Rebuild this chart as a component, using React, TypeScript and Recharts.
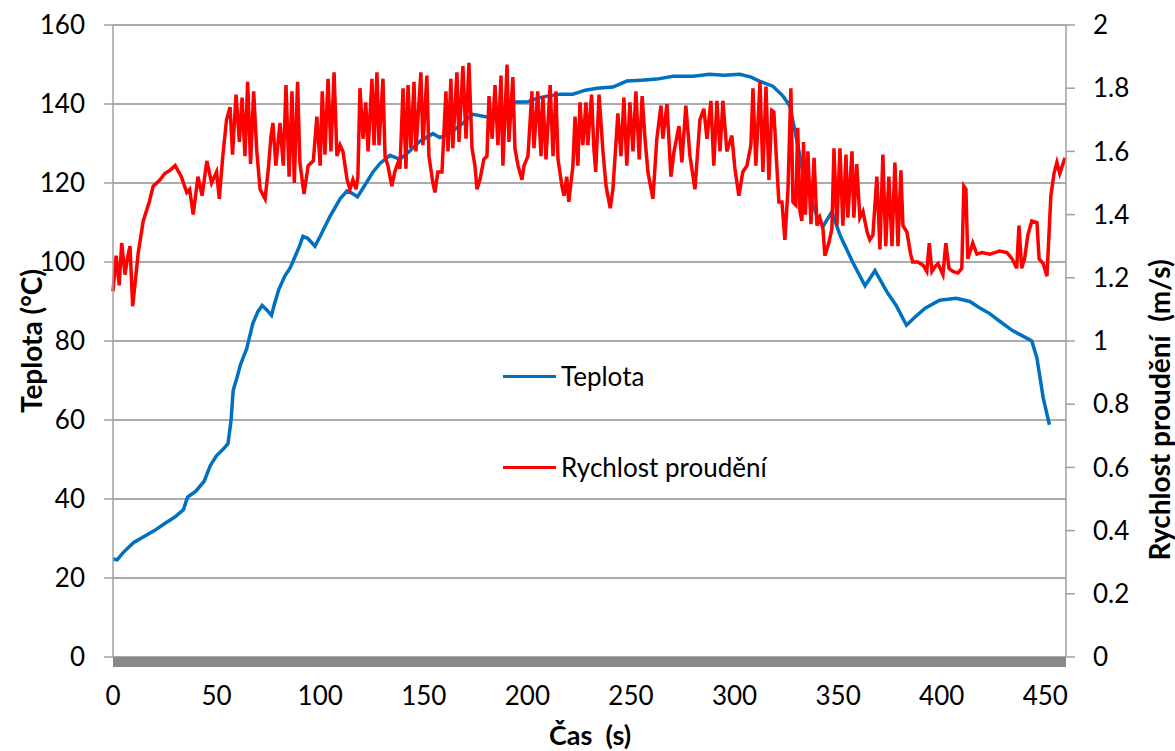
import React from 'react';
import { LineChart, Line, XAxis, YAxis, CartesianGrid, Legend } from 'recharts';

// Teplota (°C) v čase (s)
const teplotaCas = [
  0, 2, 5, 10, 15, 20, 25, 30, 34, 36, 40, 44, 47, 50, 53, 55.5, 57, 58, 60, 61.5,
  64.5, 67.5, 70, 72, 74, 76.5, 78, 80, 83, 85.5, 88, 90, 91.7, 94, 97.5, 100, 104.7,
  109.6, 113, 115, 118, 121, 125.5, 129, 133.7, 138.5, 143, 148, 154.4, 157.8, 162,
  167.5, 173.7, 180.5, 186, 193, 199.8, 205, 209.5, 216, 222, 228, 233.6, 241.3, 248,
  255, 262.5, 270.3, 280, 288, 295, 302.6, 308, 312, 318.5, 323.4, 326.7, 330, 333,
  336.4, 339.5, 342.7, 345, 347, 351, 357, 363, 367.8, 373.5, 378, 383, 387, 392, 399,
  407, 413.6, 418, 423, 428, 434, 439, 443.5, 446, 449, 452,
];
const teplotaHodnoty = [
  24.8, 24.6, 26.5, 29, 30.5, 32, 33.8, 35.5, 37.3, 40.5, 42, 44.5, 48.5, 51, 52.5, 54,
  60, 67.5, 71, 74, 78, 84.5, 87.5, 89, 88, 86.5, 89.5, 93, 96.5, 98.5, 101.5, 104,
  106.5, 106, 104, 106.5, 111.5, 116, 118, 117.5, 116.5, 119, 122.8, 125, 127, 126,
  128, 130.5, 132.5, 131.5, 132.5, 134.5, 137.4, 136.7, 138, 140.5, 140.5, 141.5, 142,
  142.5, 142.5, 143.5, 144, 144.3, 145.8, 146, 146.3, 147, 147, 147.5, 147.3, 147.5,
  146.8, 145.8, 144.5, 142, 139.5, 131, 122.8, 116.8, 112, 109, 111, 112.7, 106.7, 100,
  94, 97.8, 92.5, 89, 84, 86, 88.3, 90.3, 90.8, 90, 88.5, 87, 85, 82.7, 81.3, 80, 75.6,
  65.6, 58.8,
];

// Rychlost proudění (m/s) v čase (s)
const rychlostCas = [
  0, 1.5, 3, 4.2, 5.8, 6.9, 8.2, 9.5, 12.2, 14.6, 17.5, 19.4, 22.7, 25, 27.5, 30, 33,
  35.6, 37, 38.7, 41, 43, 45.3, 47.6, 50, 51.3, 53, 54.8, 56.5, 57.7, 59.4, 61, 62.3,
  63.7, 65, 66.4, 67.9, 69.4, 71, 73.4, 75, 76.2, 77.2, 78.6, 80.6, 82.2, 83.5, 85,
  86.4, 87.5, 89.1, 90.2, 92.2, 94.2, 96.7, 98.4, 100, 101, 102.3, 103.8, 105.2, 106.7,
  108.1, 109.6, 111, 113, 114.4, 115.8, 117.3, 118.2, 119.2, 120.7, 122, 123.1, 125,
  126, 127.4, 128.4, 130.3, 131.3, 132.7, 134.6, 136, 137.6, 138.5, 140, 141.4, 142.4,
  143.8, 145.3, 146.2, 148.6, 149.6, 151.5, 152.5, 154.4, 155.4, 156.8, 158.8, 160.7,
  161.7, 163.1, 164, 166, 167, 168.9, 170.4, 171.8, 173.3, 174.7, 175.7, 177.1, 179,
  180.5, 181.5, 183, 184.4, 185.8, 187.3, 188.2, 190.2, 191.1, 193, 194, 195.5, 197.4,
  198.4, 200.3, 202.2, 203.2, 205, 206.6, 207.5, 209, 211, 212.4, 213.8, 214.8, 216.7,
  217.7, 219, 220, 222, 223, 224.4, 225.4, 226.8, 228.3, 229.2, 231, 232.1, 233, 234.6,
  236.5, 238, 240, 241.3, 243.7, 245.2, 246.6, 248, 249.5, 251, 252.4, 254, 255.4,
  256.8, 258.2, 260.6, 262.5, 264.5, 265.4, 267.4, 269.3, 270.8, 273.2, 274.6, 276.5,
  278.5, 280.9, 283.3, 285.2, 286.7, 288.6, 290, 291.5, 293, 294.4, 296.3, 298.7,
  300.2, 302.1, 304, 306, 307.9, 308.9, 310.3, 312.3, 313.7, 315.2, 316.6, 318, 319,
  320.5, 321.4, 322.9, 324.3, 325.8, 327.2, 328.2, 329.6, 330.5, 331.6, 332.5, 333.3,
  334.2, 335.4, 336.9, 338.4, 339.8, 341.2, 342.7, 343.6, 345.5, 347, 348, 349.4,
  350.9, 352.3, 353.8, 354.7, 356.7, 357.6, 359, 360.5, 362, 364, 365.3, 366.8, 368.7,
  370.2, 371.6, 373, 374.5, 376, 377.4, 378.9, 380.3, 381.3, 383.2, 385, 386, 388.5,
  391, 392.8, 394, 395.3, 396.7, 398.2, 400.6, 402, 403.5, 405.4, 407.8, 409.7, 410.7,
  411.7, 412.6, 415, 417, 419.4, 423.3, 428, 431.5, 434, 436.2, 437.3, 438.6, 440,
  441.6, 443.5, 446, 447, 449, 450.8, 452.7, 454.2, 455.6, 457, 459.5,
];
const rychlostHodnoty = [
  1.157, 1.27, 1.176, 1.31, 1.21, 1.26, 1.3, 1.11, 1.28, 1.38, 1.44, 1.49, 1.51, 1.53,
  1.54, 1.555, 1.52, 1.47, 1.48, 1.4, 1.52, 1.46, 1.57, 1.5, 1.535, 1.45, 1.585, 1.7,
  1.74, 1.59, 1.78, 1.63, 1.77, 1.585, 1.82, 1.56, 1.79, 1.6, 1.48, 1.45, 1.545, 1.645,
  1.69, 1.555, 1.69, 1.555, 1.81, 1.52, 1.79, 1.5, 1.82, 1.565, 1.465, 1.555, 1.57,
  1.71, 1.555, 1.79, 1.59, 1.83, 1.6, 1.85, 1.585, 1.62, 1.6, 1.51, 1.48, 1.51, 1.48,
  1.52, 1.8, 1.64, 1.755, 1.6, 1.83, 1.62, 1.85, 1.62, 1.83, 1.585, 1.555, 1.49, 1.535,
  1.565, 1.545, 1.8, 1.545, 1.81, 1.61, 1.82, 1.6, 1.85, 1.62, 1.84, 1.585, 1.5, 1.47,
  1.535, 1.535, 1.79, 1.6, 1.83, 1.61, 1.85, 1.63, 1.87, 1.64, 1.88, 1.61, 1.555, 1.48,
  1.51, 1.575, 1.585, 1.775, 1.64, 1.81, 1.62, 1.84, 1.555, 1.875, 1.63, 1.835, 1.61,
  1.555, 1.51, 1.555, 1.585, 1.79, 1.61, 1.79, 1.585, 1.775, 1.575, 1.81, 1.585, 1.79,
  1.575, 1.49, 1.46, 1.52, 1.44, 1.555, 1.71, 1.555, 1.755, 1.62, 1.755, 1.62, 1.78,
  1.61, 1.535, 1.78, 1.6, 1.49, 1.42, 1.48, 1.72, 1.585, 1.77, 1.555, 1.755, 1.6, 1.79,
  1.575, 1.775, 1.64, 1.535, 1.45, 1.64, 1.745, 1.64, 1.75, 1.52, 1.6, 1.68, 1.565,
  1.745, 1.585, 1.48, 1.7, 1.735, 1.64, 1.76, 1.555, 1.76, 1.6, 1.76, 1.6, 1.65, 1.545,
  1.46, 1.535, 1.555, 1.62, 1.8, 1.555, 1.82, 1.535, 1.805, 1.51, 1.73, 1.725, 1.545,
  1.44, 1.44, 1.32, 1.48, 1.8, 1.44, 1.43, 1.675, 1.41, 1.38, 1.63, 1.4, 1.6, 1.37,
  1.58, 1.365, 1.39, 1.355, 1.27, 1.31, 1.355, 1.61, 1.365, 1.61, 1.365, 1.59, 1.39,
  1.6, 1.39, 1.56, 1.39, 1.41, 1.345, 1.32, 1.335, 1.52, 1.29, 1.59, 1.3, 1.52, 1.3,
  1.565, 1.3, 1.54, 1.365, 1.345, 1.275, 1.25, 1.25, 1.24, 1.22, 1.31, 1.22, 1.235,
  1.245, 1.21, 1.31, 1.23, 1.22, 1.215, 1.23, 1.49, 1.48, 1.26, 1.31, 1.275, 1.28,
  1.275, 1.285, 1.28, 1.26, 1.23, 1.365, 1.23, 1.26, 1.335, 1.38, 1.375, 1.26, 1.245,
  1.205, 1.46, 1.53, 1.565, 1.53, 1.58,
];

const casTicks = [0, 50, 100, 150, 200, 250, 300, 350, 400, 450];
const teplotaTicks = [0, 20, 40, 60, 80, 100, 120, 140, 160];
const rychlostTicks = [0, 0.2, 0.4, 0.6, 0.8, 1, 1.2, 1.4, 1.6, 1.8, 2];

const teplotaData = teplotaCas.map((cas, i) => ({ cas, teplota: teplotaHodnoty[i] }));
const rychlostData = rychlostCas.map((cas, i) => ({ cas, rychlost: rychlostHodnoty[i] }));

const FONT = 'Lato, "Open Sans", sans-serif';
const MODRA = '#0070C0';
const CERVENA = '#FF0000';
const tickStyle = { fontFamily: FONT, fontSize: 26, fill: '#000' };

const LegendBox = () => (
  <div style={{ fontFamily: FONT, fontSize: 26, color: '#000', lineHeight: '30px' }}>
    {[
      { name: 'Teplota', color: MODRA },
      { name: 'Rychlost proudění', color: CERVENA },
    ].map((item, i) => (
      <div key={item.name} style={{ display: 'flex', alignItems: 'center', marginTop: i ? 61 : 0 }}>
        <span style={{ display: 'inline-block', width: 53, height: 3, background: item.color, marginRight: 5 }} />
        <span>{item.name}</span>
      </div>
    ))}
  </div>
);

const titleStyle: React.CSSProperties = {
  position: 'absolute',
  fontFamily: FONT,
  fontWeight: 700,
  fontSize: 28,
  color: '#000',
  whiteSpace: 'pre',
  textAlign: 'center',
  width: 400,
  height: 30,
  lineHeight: '30px',
};

export default function App() {
  return (
    <div style={{ position: 'absolute', left: 0, top: 0, width: 1175, height: 751, background: '#fff' }}>
      <LineChart width={1175} height={751} margin={{ top: 25, right: 0, bottom: 0, left: 0 }}>
        <CartesianGrid yAxisId="left" vertical={false} stroke="#ababab" strokeWidth={1.8} />
        <XAxis
          dataKey="cas"
          type="number"
          domain={[0, 460]}
          ticks={casTicks}
          height={94}
          tickLine={false}
          tickSize={0}
          tickMargin={30}
          tick={tickStyle}
          axisLine={{ stroke: '#898989', strokeWidth: 10, transform: 'translate(0 5)' }}
          allowDuplicatedCategory={false}
        />
        <YAxis
          yAxisId="left"
          orientation="left"
          domain={[0, 160]}
          ticks={teplotaTicks}
          width={113}
          tickSize={9}
          tickMargin={19}
          tick={tickStyle}
          stroke="#a0a0a0"
          tickLine={{ stroke: '#a0a0a0', strokeWidth: 1.5 }}
          axisLine={{ stroke: '#a0a0a0', strokeWidth: 1.5 }}
        />
        <YAxis
          yAxisId="right"
          orientation="right"
          domain={[0, 2]}
          ticks={rychlostTicks}
          width={109}
          tickSize={9}
          tickMargin={18}
          tick={tickStyle}
          stroke="#a0a0a0"
          tickLine={{ stroke: '#a0a0a0', strokeWidth: 1.5 }}
          axisLine={{ stroke: '#a0a0a0', strokeWidth: 1.5 }}
        />
        <Legend
          layout="vertical"
          align="center"
          verticalAlign="middle"
          content={<LegendBox />}
          wrapperStyle={{ left: 503, top: 361, width: 320 }}
        />
        <Line
          yAxisId="left"
          data={teplotaData}
          dataKey="teplota"
          name="Teplota"
          type="linear"
          stroke={MODRA}
          strokeWidth={3.5}
          dot={false}
          isAnimationActive={false}
        />
        <Line
          yAxisId="right"
          data={rychlostData}
          dataKey="rychlost"
          name="Rychlost proudění"
          type="linear"
          stroke={CERVENA}
          strokeWidth={3.5}
          dot={false}
          isAnimationActive={false}
        />
      </LineChart>
      <div style={{ ...titleStyle, left: 31 - 200, top: 341 - 15, transform: 'rotate(-90deg)' }}>Teplota (°C)</div>
      <div style={{ ...titleStyle, left: 1159 - 200, top: 410 - 15, transform: 'rotate(-90deg)' }}>Rychlost proudění  (m/s)</div>
      <div style={{ ...titleStyle, left: 590 - 200, top: 722, height: 26, lineHeight: '26px', fontSize: 27 }}>Čas  (s)</div>
    </div>
  );
}
